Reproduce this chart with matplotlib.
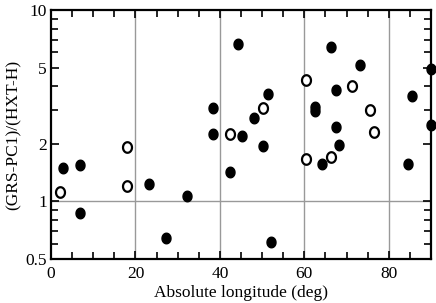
import matplotlib.pyplot as plt
import matplotlib.path as mpath
import matplotlib.ticker as mticker
import numpy as np

plt.rcParams['font.family'] = ['Liberation Serif', 'DejaVu Serif']

# filled points
lon_fill = [2.9, 6.9, 6.9, 23.1, 27.2, 32.1, 38.3, 38.3, 42.4, 44.3, 45.2, 48.1,
            50.2, 51.4, 52.1, 62.6, 62.6, 64.3, 66.4, 67.4, 67.4, 68.3, 73.3,
            84.5, 85.5, 90.0, 90.0]
ratio_fill = [1.49, 1.55, 0.87, 1.23, 0.64, 1.07, 3.07, 2.25, 1.42, 6.64, 2.20, 2.73,
              1.95, 3.64, 0.61, 3.10, 2.95, 1.57, 6.41, 3.82, 2.45, 1.97, 5.16,
              1.57, 3.55, 4.92, 2.51]
# open points
lon_open = [2.1, 18.1, 18.1, 42.4, 50.2, 60.5, 60.5, 66.4, 71.4, 75.5, 76.4]
ratio_open = [1.12, 1.20, 1.92, 2.25, 3.07, 4.31, 1.67, 1.71, 4.00, 3.00, 2.30]

# tall ellipse marker
t = np.linspace(0, 2*np.pi, 60)
ell = mpath.Path(np.column_stack([0.85*np.cos(t), np.sin(t)]), closed=True)

fig = plt.figure(figsize=(4.36, 3.03), dpi=100)
ax = fig.add_axes([51/436, 1-259/303, 380/436, 249/303])

ax.set_yscale('log')
ax.set_xlim(0, 90)
ax.set_ylim(0.5, 10)

for gx in [20, 40, 60, 80]:
    ax.axvline(gx, color='#999999', lw=1, zorder=1)
ax.axhline(1, color='#999999', lw=1, zorder=1)

ax.plot(lon_fill, ratio_fill, ls='none', marker=ell, ms=7.6, mfc='black', mec='black',
        clip_on=False, zorder=3)
ax.plot(lon_open, ratio_open, ls='none', marker=ell, ms=7.6, mfc='white', mec='black',
        mew=1.6, clip_on=False, zorder=3)

ax.xaxis.set_major_locator(mticker.MultipleLocator(20))
ax.xaxis.set_minor_locator(mticker.MultipleLocator(5))
ax.yaxis.set_major_locator(mticker.FixedLocator([0.5, 1, 2, 5, 10]))
ax.yaxis.set_minor_locator(mticker.FixedLocator([0.6, 0.7, 0.8, 0.9, 3, 4, 6, 7, 8, 9]))
ax.yaxis.set_major_formatter(mticker.FixedFormatter(['0.5', '1', '2', '5', '10']))
ax.yaxis.set_minor_formatter(mticker.NullFormatter())

ax.tick_params(which='both', direction='in', top=True, right=True, width=1.2,
               labelsize=12.5, colors='black', pad=3)
ax.tick_params(axis='x', which='major', pad=5)
ax.tick_params(which='major', length=6)
ax.tick_params(which='minor', length=5)
for s in ax.spines.values():
    s.set_linewidth(1.6)

ax.set_xlabel('Absolute longitude (deg)', fontsize=12.5, labelpad=2)
ax.set_ylabel('(GRS-PC1)/(HXT-H)', fontsize=12.5, labelpad=3)

fig.savefig('out.png', dpi=100)
